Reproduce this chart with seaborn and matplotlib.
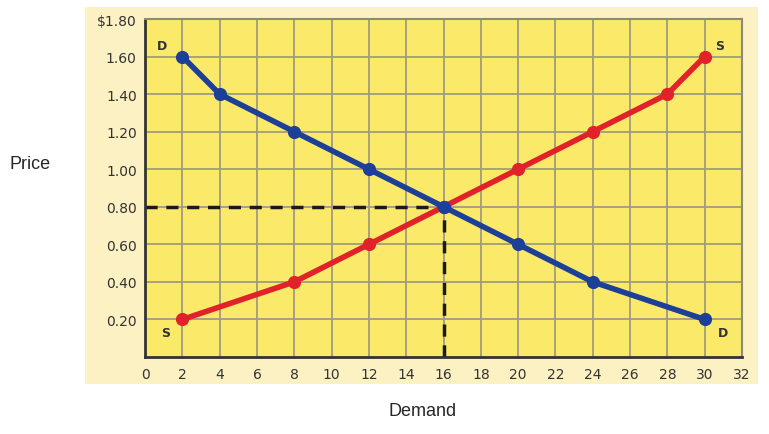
import seaborn as sns
import pandas as pd
import numpy as np
import matplotlib.pyplot as plt
from matplotlib.patches import Rectangle

# demand / supply schedules
demand_qty = [2, 4, 8, 12, 16, 20, 24, 30]
demand_price = [1.60, 1.40, 1.20, 1.00, 0.80, 0.60, 0.40, 0.20]
supply_qty = [2, 8, 12, 16, 20, 24, 28, 30]
supply_price = [0.20, 0.40, 0.60, 0.80, 1.00, 1.20, 1.40, 1.60]
eq_qty = 16
eq_price = 0.80
x_ticks = list(range(0, 34, 2))
y_ticks = [0.20, 0.40, 0.60, 0.80, 1.00, 1.20, 1.40, 1.60, 1.80]
y_labels = ["0.20", "0.40", "0.60", "0.80", "1.00", "1.20", "1.40", "1.60", "$1.80"]

sns.set_style("white")
plt.rcParams['font.family'] = ['DejaVu Sans']

fig = plt.figure(figsize=(7.69, 4.35), dpi=100)
fig.patch.set_facecolor("white")
fig.patches.append(Rectangle((0.1105, 0.115), 0.875, 0.867, transform=fig.transFigure,
                             facecolor="#FBF1C3", edgecolor="none", zorder=-10))
ax = fig.add_axes([0.1886, 0.177, 0.7763, 0.777])
ax.set_zorder(1)
ax.set_facecolor("#FBE96A")

df_d = pd.DataFrame({"q": demand_qty, "p": demand_price})
df_s = pd.DataFrame({"q": supply_qty, "p": supply_price})

ax.plot([0, eq_qty], [eq_price, eq_price], ls=(0, (3.5, 2.5)), color="#1A1A1A", lw=2.5, zorder=2)
ax.plot([eq_qty, eq_qty], [0, eq_price], ls=(0, (3.5, 2.5)), color="#1A1A1A", lw=2.5, zorder=2)

sns.lineplot(data=df_s, x="q", y="p", ax=ax, color="#E1222A", lw=4, marker="o",
             markersize=9.5, markeredgewidth=0, sort=False, zorder=3)
sns.lineplot(data=df_d, x="q", y="p", ax=ax, color="#1C3F98", lw=4, marker="o",
             markersize=9.5, markeredgewidth=0, sort=False, zorder=4)

ax.set_xlim(0, 32)
ax.set_ylim(0, 1.8)
ax.set_xticks(x_ticks)
ax.set_yticks(y_ticks)
ax.set_yticklabels(y_labels)
ax.grid(True, color="#A09B80", lw=1.3)
ax.set_axisbelow(True)
ax.tick_params(axis="x", direction="in", length=5, width=2, color="#333333",
               labelsize=10, labelcolor="#333333", pad=7)
ax.tick_params(axis="y", direction="in", length=5, width=1.5, color="#333333",
               labelsize=10, labelcolor="#333333", pad=6)
for side in ["left", "bottom"]:
    ax.spines[side].set_color("#333333")
    ax.spines[side].set_linewidth(2)
for side in ["top", "right"]:
    ax.spines[side].set_color("#8C8A78")
    ax.spines[side].set_linewidth(1.5)

ax.set_xlabel("")
ax.set_ylabel("")
lab_kw = dict(fontsize=9, fontweight="bold", color="#333333", ha="center", va="center")
ax.text(0.9, 1.66, "D", **lab_kw)
ax.text(30.8, 1.66, "S", **lab_kw)
ax.text(1.1, 0.13, "S", **lab_kw)
ax.text(31.0, 0.13, "D", **lab_kw)

fig.text(30 / 769, 1 - 165 / 435, "Price", fontsize=13, ha="center", va="center",
         family=["Liberation Sans", "DejaVu Sans"])
fig.text(423 / 769, 1 - 412 / 435, "Demand", fontsize=13, ha="center", va="center",
         family=["Liberation Sans", "DejaVu Sans"])

fig.savefig("out.png", dpi=100)
